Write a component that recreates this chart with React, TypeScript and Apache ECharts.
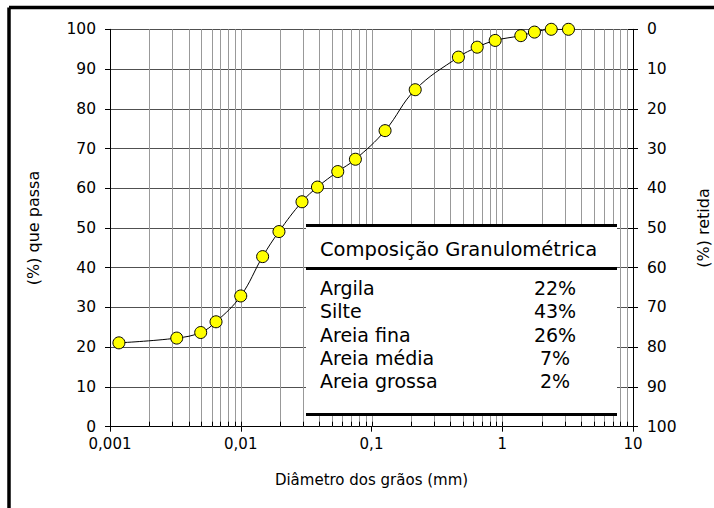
import React, { useEffect, useRef } from "react";
import * as echarts from "echarts";

// Grain size distribution data (diameter mm, % passing)
const diameters = [0.00117, 0.00324, 0.00494, 0.00647, 0.01, 0.0147, 0.0196, 0.0294, 0.0386, 0.0552, 0.0753, 0.127, 0.216, 0.462, 0.643, 0.883, 1.387, 1.763, 2.37, 3.21];
const passing = [21.1, 22.3, 23.7, 26.4, 32.9, 42.8, 49.1, 56.6, 60.3, 64.2, 67.3, 74.5, 84.8, 93.0, 95.5, 97.2, 98.4, 99.3, 100, 100];

// Composition table
const tableTitle = "Composição Granulométrica";
const compNames = ["Argila", "Silte", "Areia fina", "Areia média", "Areia grossa"];
const compValues = ["22%", "43%", "26%", "7%", "2%"];

// Axis texts
const xAxisName = "Diâmetro dos grãos (mm)";
const yLeftName = "(%) que passa";
const yRightName = "(%) retida";

// Log grid positions
const decades = [0.001, 0.01, 0.1, 1];
const multipliers = [1, 2, 3, 4, 5, 6, 7, 8, 9];

export default function App() {
  const ref = useRef<HTMLDivElement>(null);
  useEffect(() => {
    document.body.style.margin = "0";
    if (!ref.current) return;
    const chart = echarts.init(ref.current, undefined, { renderer: "svg" });

    const gridData: number[][] = [];
    decades.forEach((d) => {
      multipliers.forEach((m) => {
        const v = +(d * m).toPrecision(3);
        if (v > 0.001) gridData.push([v, m === 1 ? 1 : 0]);
      });
    });

    const font = "DejaVu Sans";
    const tblX = 306, tblR = 617, tblTop = 225.5, tblSep = 268.5, tblBot = 414.5;
    const rowY0 = 288, rowStep = 23.3;
    const tblFont = `19px '${font}'`;
    const headFont = `19.5px '${font}'`;

    const graphics: any[] = [
      { type: "line", shape: { x1: 9, y1: 7.5, x2: 714, y2: 7.5 }, style: { stroke: "#000", lineWidth: 3.5 }, z: 100 },
      { type: "line", shape: { x1: 9, y1: 7.5, x2: 9, y2: 508 }, style: { stroke: "#000", lineWidth: 3.5 }, z: 100 },
      { type: "rect", shape: { x: tblX, y: tblTop, width: tblR - tblX, height: tblBot - tblTop }, style: { fill: "#fff" }, z: 50 },
      { type: "line", shape: { x1: tblX, y1: tblTop, x2: tblR, y2: tblTop }, style: { stroke: "#000", lineWidth: 3 }, z: 51 },
      { type: "line", shape: { x1: tblX, y1: tblSep, x2: tblR, y2: tblSep }, style: { stroke: "#000", lineWidth: 3 }, z: 51 },
      { type: "line", shape: { x1: tblX, y1: tblBot, x2: tblR, y2: tblBot }, style: { stroke: "#000", lineWidth: 3 }, z: 51 },
      { type: "text", x: 320, y: 249, style: { text: tableTitle, font: headFont, fill: "#000", textVerticalAlign: "middle" }, z: 52 },
    ];
    compNames.forEach((n, i) => {
      graphics.push({ type: "text", x: 320, y: rowY0 + i * rowStep, style: { text: n, font: tblFont, fill: "#000", textVerticalAlign: "middle" }, z: 52 });
      graphics.push({ type: "text", x: 555, y: rowY0 + i * rowStep, style: { text: compValues[i], font: tblFont, fill: "#000", textAlign: "center", textVerticalAlign: "middle" }, z: 52 });
    });

    chart.setOption({
      animation: false,
      textStyle: { fontFamily: font },
      grid: { left: 110, right: 81, top: 29.3, bottom: 81.3, containLabel: false, outerBoundsMode: "none" },
      xAxis: {
        type: "log",
        logBase: 10,
        min: 0.001,
        max: 10,
        name: xAxisName,
        nameLocation: "middle",
        nameGap: 46,
        nameTextStyle: { fontSize: 15, color: "#000", fontFamily: font },
        axisLine: { lineStyle: { color: "#000", width: 1 } },
        axisTick: { show: true, length: 5, lineStyle: { color: "#000" } },
        axisLabel: {
          fontSize: 15,
          color: "#000",
          margin: 10,
          formatter: (v: number) => String(v).replace(".", ","),
        },
        splitLine: { show: false },
      },
      yAxis: [
        {
          type: "value",
          min: 0,
          max: 100,
          interval: 10,
          position: "left",
          name: yLeftName,
          nameLocation: "middle",
          nameRotate: 90,
          nameGap: 69,
          nameTextStyle: { fontSize: 16, color: "#000", fontFamily: font },
          axisLine: { show: true, lineStyle: { color: "#000" } },
          axisTick: { show: true, length: 5, lineStyle: { color: "#000" } },
          axisLabel: { fontSize: 15.5, color: "#000", margin: 14 },
          splitLine: { show: true, lineStyle: { color: "#505050", width: 1 } },
        },
        {
          type: "value",
          min: 0,
          max: 100,
          interval: 10,
          inverse: true,
          position: "right",
          name: yRightName,
          nameLocation: "middle",
          nameRotate: 90,
          nameGap: 62,
          nameTextStyle: { fontSize: 16, color: "#000", fontFamily: font },
          axisLine: { show: true, onZero: false, lineStyle: { color: "#000" } },
          axisTick: { show: true, length: 5, lineStyle: { color: "#000" } },
          axisLabel: { fontSize: 15.5, color: "#000", margin: 14 },
          splitLine: { show: false },
        },
        {
          type: "value",
          min: 0,
          max: 100,
          interval: 10,
          inverse: true,
          position: "right",
          axisLine: { show: false },
          axisTick: { show: true, inside: true, length: 5, lineStyle: { color: "#000" } },
          axisLabel: { show: false },
          splitLine: { show: false },
        },
      ],
      series: [
        {
          type: "custom",
          silent: true,
          z: 1,
          xAxisIndex: 0,
          yAxisIndex: 0,
          clip: false,
          encode: { x: 0, y: 1 },
          data: gridData,
          renderItem: (params: any, api: any) => {
            const x = api.value(0);
            const p0 = api.coord([x, 0]);
            const p1 = api.coord([x, 100]);
            const xs = Math.round(p0[0]) + 0.5;
            return {
              type: "group",
              children: [
                { type: "line", shape: { x1: xs, y1: p0[1], x2: xs, y2: p1[1] }, style: { stroke: "#999", lineWidth: 1 } },
                { type: "line", shape: { x1: xs, y1: p0[1], x2: xs, y2: p0[1] - 5 }, style: { stroke: "#000", lineWidth: 1 } },
              ],
            };
          },
        },
        {
          type: "line",
          xAxisIndex: 0,
          yAxisIndex: 0,
          z: 3,
          data: diameters.map((d, i) => [d, passing[i]]),
          smooth: 0.4,
          symbol: "circle",
          symbolSize: 12,
          lineStyle: { color: "#000", width: 1 },
          itemStyle: { color: "#FFFF00", borderColor: "#000", borderWidth: 1 },
        },
      ],
      graphic: graphics,
    });
    return () => chart.dispose();
  }, []);
  return <div ref={ref} style={{ width: 714, height: 508 }} />;
}
